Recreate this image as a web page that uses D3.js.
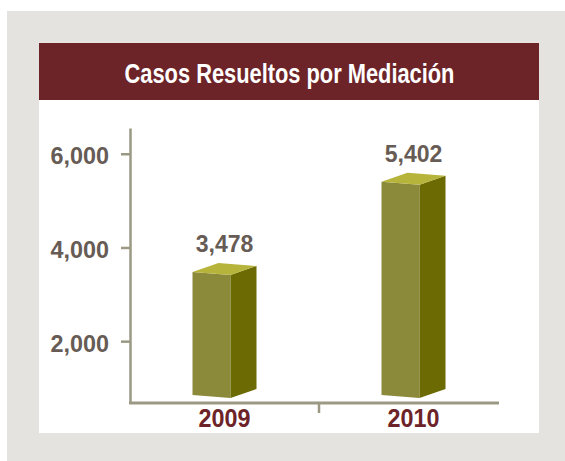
<!DOCTYPE html>
<html>
<head>
<meta charset="utf-8">
<script src="https://cdn.jsdelivr.net/npm/d3@7.9.0/dist/d3.min.js"></script>
<style>
  html, body { margin: 0; padding: 0; background: #fff; }
  svg { display: block; }
  text { font-family: "Liberation Sans", Arial, sans-serif; font-weight: bold; }
</style>
</head>
<body>
<svg id="chart" width="565" height="461"></svg>
<script>
const title = "Casos Resueltos por Mediación";
const years = ["2009", "2010"];
const casos = [3478, 5402];
const yTicks = [2000, 4000, 6000];

const svg = d3.select("#chart");
const fmt = d3.format(",");

// fuente condensada simulada: se comprime en horizontal
function condensed(sel, x, y, sx) {
  return sel.attr("x", 0).attr("y", 0)
    .attr("transform", `translate(${x},${y}) scale(${sx},1)`);
}

// marco gris y panel blanco
svg.append("rect").attr("x", 7).attr("y", 11).attr("width", 558).attr("height", 450).attr("fill", "#e4e3df");
svg.append("rect").attr("x", 39).attr("y", 43).attr("width", 500).attr("height", 390).attr("fill", "#fff");
svg.append("rect").attr("x", 39).attr("y", 43).attr("width", 500).attr("height", 57).attr("fill", "#6d2428");
svg.append("text")
  .call(condensed, 289.5, 83, 0.78)
  .attr("text-anchor", "middle")
  .attr("fill", "#fff")
  .attr("font-size", 28)
  .text(title);

const y = d3.scaleLinear().domain([680, 6550]).range([403, 128]);
const x = d3.scaleBand().domain(years).range([130, 508]);

const axisColor = "#9b9983";

// eje y
const yAxis = svg.append("g")
  .attr("transform", "translate(130,0)")
  .call(d3.axisLeft(y).tickValues(yTicks).tickFormat(fmt).tickSize(9).tickSizeOuter(0));
yAxis.select(".domain").attr("stroke", axisColor).attr("stroke-width", 2.5);
yAxis.selectAll(".tick line").attr("stroke", axisColor).attr("stroke-width", 2.5);
yAxis.selectAll(".tick text")
  .attr("fill", "#675c55")
  .attr("font-size", 24.5)
  .attr("font-family", null)
  .attr("x", -22)
  .attr("dy", "0.41em")
  .attr("transform", "scale(0.955,1)");

// eje x
svg.append("line")
  .attr("x1", 129).attr("x2", 499)
  .attr("y1", y.range()[0]).attr("y2", y.range()[0])
  .attr("stroke", axisColor).attr("stroke-width", 3);
svg.append("line")
  .attr("x1", x("2010")).attr("x2", x("2010"))
  .attr("y1", y.range()[0]).attr("y2", y.range()[0] + 10)
  .attr("stroke", axisColor).attr("stroke-width", 2.5);
svg.selectAll(".xlab")
  .data(years)
  .join("text")
  .attr("class", "xlab")
  .each(function (d) {
    d3.select(this).call(condensed, x(d) + x.bandwidth() / 2, 427, 0.88);
  })
  .attr("text-anchor", "middle")
  .attr("fill", "#6d2428")
  .attr("font-size", 26.5)
  .text(d => d);

// barras 3d
const fw = 38, sw = 26, d1 = 3, d2 = 9;
const base = y.range()[0] - 8;
const bars = svg.selectAll(".bar")
  .data(casos)
  .join("g")
  .attr("class", "bar");

bars.each(function (v, i) {
  const g = d3.select(this);
  const cx = x(years[i]) + x.bandwidth() / 2;
  const x0 = cx - (fw + sw) / 2;
  const t = y(v);
  const pts = a => a.map(p => p.join(",")).join(" ");
  g.append("polygon")
    .attr("points", pts([[x0, t], [x0 + fw, t + d1], [x0 + fw, base + d1], [x0, base]]))
    .attr("fill", "#8b893a");
  g.append("polygon")
    .attr("points", pts([[x0 + fw, t + d1], [x0 + fw + sw, t + d1 - d2], [x0 + fw + sw, base + d1 - d2], [x0 + fw, base + d1]]))
    .attr("fill", "#6c6a02");
  g.append("polygon")
    .attr("points", pts([[x0, t], [x0 + sw, t - d2], [x0 + fw + sw, t + d1 - d2], [x0 + fw, t + d1]]))
    .attr("fill", "#b7b43c");
  g.append("text")
    .call(condensed, cx, t - 20, 0.96)
    .attr("text-anchor", "middle")
    .attr("fill", "#675c55")
    .attr("font-size", 24)
    .text(fmt(v));
});
</script>
</body>
</html>
